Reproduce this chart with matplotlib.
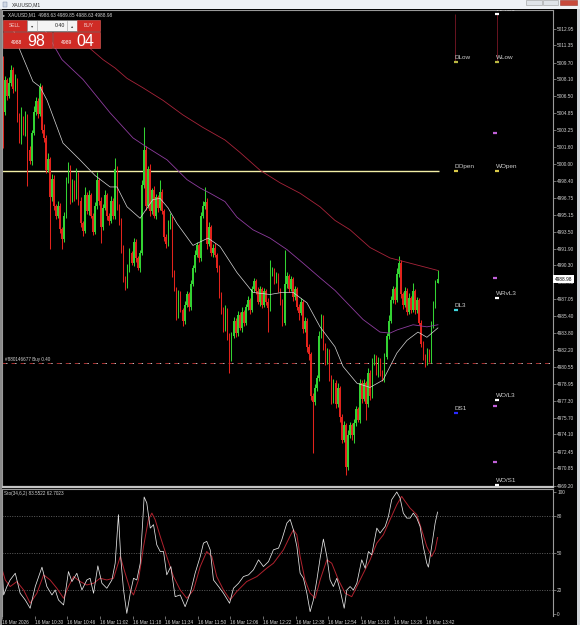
import numpy as np
import matplotlib.pyplot as plt
from matplotlib.patches import Rectangle

plt.rcParams['font.family'] = ['Liberation Sans', 'DejaVu Sans']

# M1 candles, 16 Mar 10:14 -> 13:47 (open of a bar = close of the bar before)
first_open = 5010.0
closes = [
    5005.0, 5008.0, 5006.5, 5007.8, 5009.0, 5007.2, 5008.0, 5004.5, 5002.3, 5004.3, 5003.0, 5004.6, 5001.3, 5000.3, 5003.0, 5005.0,
    5006.0, 5004.8, 5007.4, 5003.3, 5002.5, 4999.4, 5000.5, 4996.8, 4998.6, 4996.0, 4995.0, 4996.0, 4993.8, 4992.8, 4995.0, 4998.5,
    4999.7, 4996.6, 4998.2, 4996.8, 4999.0, 4996.5, 4994.3, 4993.6, 4997.0, 4995.5, 4997.0, 4995.0, 4993.5, 4996.0, 4998.5, 4996.5,
    4994.0, 4995.8, 4997.0, 4995.0, 4994.5, 4996.5, 4995.0, 4999.5, 4996.0, 4994.5, 4992.0, 4989.0, 4988.3, 4990.0, 4991.5, 4990.5,
    4992.5, 4991.0, 4990.0, 4991.5, 4998.0, 5001.3, 4996.0, 4999.5, 4995.5, 4997.5, 4995.0, 4996.8, 4995.8, 4997.3, 4995.5, 4993.0,
    4992.3, 4994.2, 4994.8, 4989.5, 4988.0, 4985.5, 4987.5, 4986.0, 4985.0, 4986.5, 4987.5, 4986.3, 4988.5, 4990.0, 4991.3, 4992.2,
    4991.0, 4995.0, 4996.0, 4996.4, 4992.3, 4994.0, 4991.5, 4992.0, 4991.3, 4990.0, 4987.5, 4986.0, 4984.2, 4986.0, 4983.5, 4981.4,
    4983.5, 4985.0, 4983.8, 4985.5, 4984.3, 4985.8, 4984.8, 4986.3, 4987.0, 4986.0, 4988.0, 4988.8, 4987.8, 4986.8, 4988.0, 4986.5,
    4987.8, 4986.8, 4986.2, 4989.5, 4989.8, 4988.9, 4989.3, 4987.9, 4986.8, 4984.8, 4988.5, 4989.3, 4988.0, 4989.0, 4987.3, 4988.0,
    4986.3, 4985.7, 4986.8, 4984.2, 4985.0, 4982.5, 4981.8, 4977.8, 4977.2, 4978.5, 4979.5, 4983.5, 4985.3, 4982.6, 4981.0, 4982.0,
    4979.6, 4977.3, 4979.0, 4977.0, 4978.5, 4975.8, 4973.6, 4975.0, 4971.0, 4974.0, 4975.0, 4974.0, 4975.2, 4976.5, 4975.5, 4979.0,
    4977.5, 4979.0, 4977.0, 4980.0, 4977.8, 4981.0, 4981.5, 4980.0, 4981.2, 4980.0, 4979.4, 4981.5, 4983.5, 4985.0, 4987.0, 4988.0,
    4987.0, 4989.5, 4990.5, 4987.5, 4986.5, 4987.8, 4985.8, 4987.2, 4986.0, 4987.8, 4986.0, 4987.0, 4984.8, 4982.8, 4981.5, 4981.0,
    4982.0, 4981.2, 4984.5, 4986.5, 4988.63, 4988.98,
]
wick_up = [
    0.3, 0.4, 0.2, 0.5, 0.5, 0.3, 0.6, 0.2, 0.4, 1.2, 0.3, 0.5, 0.2, 0.4, 0.3, 0.6,
    0.4, 0.3, 0.4, 0.2, 0.5, 0.3, 0.6, 0.2, 0.4, 0.3, 0.2, 0.5, 0.3, 0.2, 0.4, 0.3,
    0.5, 0.2, 0.4, 0.3, 0.6, 0.2, 0.3, 0.2, 0.8, 0.3, 0.5, 0.2, 0.3, 0.4, 0.7, 0.2,
    0.3, 0.4, 0.5, 0.2, 0.3, 0.4, 0.2, 1.1, 0.3, 0.2, 0.3, 0.2, 0.3, 0.4, 0.5, 0.2,
    0.4, 0.3, 0.2, 0.3, 0.5, 2.2, 0.4, 0.3, 0.5, 0.2, 0.4, 0.3, 0.2, 1.2, 0.3, 0.2,
    0.3, 0.4, 0.5, 0.2, 0.3, 0.2, 0.4, 0.3, 0.2, 0.4, 0.3, 0.2, 0.4, 0.3, 0.5, 0.3,
    0.2, 0.4, 0.5, 1.4, 0.3, 0.4, 0.2, 0.3, 0.4, 0.2, 0.3, 0.2, 0.3, 0.5, 0.2, 0.3,
    0.4, 0.3, 0.2, 0.4, 0.3, 0.5, 0.2, 0.3, 0.4, 0.2, 0.3, 0.3, 0.2, 0.4, 0.3, 0.2,
    0.3, 0.2, 0.4, 1.3, 0.3, 0.2, 0.4, 0.3, 0.2, 0.3, 3.3, 0.4, 0.2, 0.3, 0.2, 0.3,
    0.2, 0.3, 0.4, 0.2, 0.3, 0.2, 0.3, 0.2, 0.3, 0.4, 0.3, 0.5, 0.3, 0.2, 0.3, 0.4,
    0.3, 0.2, 0.4, 0.3, 0.5, 0.2, 0.3, 0.4, 0.2, 0.5, 0.3, 0.2, 0.4, 0.3, 0.2, 0.4,
    0.3, 0.4, 0.2, 0.5, 0.3, 0.4, 0.3, 0.2, 0.3, 0.2, 0.3, 0.4, 0.3, 0.5, 0.4, 0.3,
    0.2, 0.5, 0.7, 0.3, 0.2, 0.4, 0.3, 0.4, 0.2, 0.8, 0.2, 0.3, 0.2, 0.3, 0.2, 0.3,
    0.4, 0.3, 0.5, 0.4, 0.3, 0.87,
]
wick_dn = [
    3.5, 0.3, 0.4, 0.2, 0.3, 0.4, 0.2, 0.5, 0.3, 0.4, 0.2, 0.3, 3.4, 0.3, 0.4, 0.2,
    0.3, 0.4, 0.2, 0.3, 0.4, 0.3, 0.2, 4.9, 0.3, 0.4, 0.3, 0.2, 0.4, 0.9, 0.3, 0.2,
    0.3, 0.4, 0.2, 0.3, 0.2, 0.4, 0.3, 0.5, 0.2, 0.3, 0.4, 0.2, 0.3, 0.2, 0.3, 0.4,
    1.6, 0.3, 0.2, 0.4, 0.3, 0.2, 0.3, 0.3, 0.4, 0.3, 0.5, 0.3, 0.4, 0.2, 0.3, 0.2,
    0.3, 0.4, 0.2, 0.3, 0.2, 0.3, 0.4, 0.2, 0.5, 0.3, 0.2, 0.3, 0.4, 0.2, 0.3, 0.4,
    0.3, 0.2, 0.4, 0.3, 0.2, 0.4, 0.3, 0.2, 0.5, 0.3, 0.2, 0.4, 0.3, 0.2, 0.3, 0.2,
    0.4, 0.3, 0.2, 0.3, 0.4, 0.2, 0.3, 0.4, 0.2, 0.3, 0.3, 0.4, 0.3, 0.2, 0.4, 1.4,
    0.3, 0.2, 0.4, 0.3, 0.2, 0.4, 0.3, 0.2, 0.3, 0.4, 0.2, 0.3, 0.3, 0.2, 0.4, 0.3,
    0.2, 0.3, 2.3, 0.3, 0.2, 0.4, 0.3, 0.2, 0.3, 0.3, 0.2, 0.4, 0.3, 0.2, 0.4, 0.3,
    0.3, 0.6, 0.2, 0.4, 0.3, 0.5, 0.6, 0.4, 4.9, 0.3, 0.2, 0.3, 0.2, 0.4, 0.3, 0.2,
    0.4, 0.3, 0.2, 0.4, 0.3, 0.5, 0.3, 0.2, 0.8, 0.3, 0.2, 0.4, 0.7, 0.3, 0.2, 0.3,
    0.4, 0.2, 1.5, 0.3, 0.4, 0.2, 0.3, 0.2, 0.4, 0.3, 0.2, 0.3, 0.2, 0.3, 0.2, 0.3,
    0.4, 0.2, 0.3, 0.3, 0.4, 0.2, 0.3, 0.2, 0.3, 0.2, 0.4, 0.3, 0.2, 0.3, 0.3, 0.4,
    0.3, 0.2, 0.3, 0.2, 0.3, 0.0,
]

# moving averages (bar index, price)
ma_fast_x = [4.4, 8.3, 14.7, 18.1, 21.6, 29.4, 37.7, 45.1, 52.5, 55.9, 60.8, 67.2, 73.5, 77.0, 80.9, 85.3, 93.1, 100.5,
             106.4, 114.7, 122.5, 130.9, 136.8, 142.2, 149.0, 155.4, 162.7, 166.7, 173.5, 179.9, 186.3, 193.1, 198.0,
             203.4, 207.8, 213.2]
ma_fast = [5013.3, 5010.9, 5007.9, 5007.4, 5006.1, 5002.0, 5000.4, 4998.9, 4997.8, 4997.8, 4995.9, 4994.8, 4996.6,
           4996.7, 4995.8, 4994.3, 4992.2, 4992.9, 4992.1, 4989.6, 4987.7, 4987.5, 4987.7, 4987.7, 4986.7, 4984.4,
           4982.5, 4980.6, 4979.0, 4978.6, 4979.3, 4981.9, 4983.1, 4983.9, 4983.4, 4984.3]
ma_mid_x = [20.6, 28.9, 39.2, 52.5, 63.7, 70.6, 80.4, 90.2, 96.6, 101.5, 108.8, 114.7, 122.5, 130.9, 139.2, 147.1,
            155.4, 162.7, 168.6, 176.5, 184.8, 189.7, 193.1, 201.0, 207.8, 213.2]
ma_mid = [5012.8, 5010.0, 5008.1, 5004.9, 5002.5, 5001.6, 5000.4, 4998.5, 4997.7, 4997.2, 4996.4, 4994.9, 4993.7,
          4992.9, 4991.8, 4990.5, 4989.1, 4987.9, 4986.7, 4985.1, 4983.9, 4983.8, 4984.1, 4984.6, 4984.4, 4984.6]
ma_slow_x = [37.7, 49.0, 54.9, 60.8, 68.6, 78.4, 88.2, 98.0, 108.8, 116.2, 126.0, 135.8, 145.6, 155.4, 162.7, 170.1,
             179.9, 189.7, 199.5, 209.3, 213.2]
ma_slow = [5011.9, 5010.0, 5009.2, 5008.2, 5007.3, 5006.1, 5004.7, 5003.5, 5002.3, 5001.1, 4999.4, 4998.2, 4997.2,
           4995.9, 4994.6, 4993.7, 4992.0, 4991.0, 4990.5, 4990.0, 4989.8]

day_open = 4999.3
order_price = 4980.91
last_price = 4988.98

# pivot levels drawn right of the price
level_names = ['WP/S1', 'DLow', 'WLow', 'DOpen', 'WOpen', 'WRvL3', 'DL3', 'WO/L3', 'DS1', 'WO/S1']
level_bar = [242.2, 222.1, 242.2, 222.1, 242.2, 242.2, 222.1, 242.2, 222.1, 242.2]
level_price = [5014.37, 5009.77, 5009.77, 4999.33, 4999.33, 4987.16, 4986.01, 4977.39, 4976.15, 4969.25]
level_color = ['white', '#b8b842', '#b8b842', '#d8c848', '#d8c848', 'white', '#3fd8e0', 'white', '#2a2aff', 'white']
purple_bar = [241.2, 241.2, 241.2, 241.2]
purple_price = [5002.97, 4989.08, 4976.82, 4971.46]

price_ticks = [5012.95, 5011.35, 5009.70, 5008.10, 5006.50, 5004.85, 5003.25, 5001.60, 5000.00, 4998.40, 4996.75,
               4995.15, 4993.50, 4991.90, 4990.30, 4988.65, 4987.05, 4985.40, 4983.80, 4982.20, 4980.55, 4978.95,
               4977.30, 4975.70, 4974.10, 4972.45, 4970.85, 4969.20]

# stochastic (34,6,2)
sto_x = [-0.5, 0.2, 1.8, 3.4, 5.9, 8.3, 10.8, 13.2, 15.7, 19.0,
         21.4, 23.9, 25.5, 27.1, 29.6, 32.0, 33.7, 36.1, 38.6, 41.0,
         42.6, 44.3, 46.4, 48.4, 50.8, 53.3, 54.9, 56.5, 57.7, 59.0,
         60.6, 62.3, 63.9, 65.5, 67.2, 69.1, 70.4, 72.1, 73.7, 75.3,
         77.0, 78.6, 80.2, 82.2, 84.3, 86.8, 89.2, 91.7, 94.1, 96.6,
         98.2, 99.8, 101.5, 103.1, 105.6, 108.0, 111.0, 112.9, 115.4, 117.8,
         120.3, 122.7, 125.2, 127.6, 130.1, 132.5, 135.0, 136.6, 139.1, 140.7,
         142.3, 144.0, 145.6, 147.2, 148.9, 150.5, 152.1, 153.8, 155.4, 157.0,
         158.7, 160.3, 161.9, 163.6, 165.2, 167.2, 168.5, 170.1, 171.7, 173.4,
         175.8, 177.5, 179.1, 180.7, 183.2, 184.8, 187.3, 188.9, 190.5, 193.0,
         194.6, 196.2, 197.9, 199.5, 201.1, 202.8, 204.4, 206.0, 207.7, 208.5,
         210.1, 211.8, 213.0]
sto_main = [36.2, 15.6, 22.5, 27.9, 33.4, 17.0, 11.5, 4.7, 22.5, 38.4,
            22.5, 15.6, 19.7, 11.5, 7.4, 34.8, 26.6, 33.4, 19.7, 27.9,
            29.3, 17.0, 39.5, 25.2, 21.1, 27.9, 41.6, 81.4, 44.4, 19.7,
            0.5, 17.0, 29.3, 27.9, 41.6, 95.9, 91.0, 70.4, 73.2, 56.7,
            51.2, 51.2, 32.1, 38.9, 14.2, 15.6, 6.0, 17.0, 33.4, 47.1,
            58.1, 59.5, 52.6, 27.9, 22.5, 17.0, 8.8, 21.1, 25.2, 30.7,
            32.1, 36.2, 44.4, 38.9, 43.0, 52.6, 54.0, 60.8, 74.5, 77.5,
            69.0, 55.3, 33.4, 29.3, 17.0, 1.9, 11.5, 27.9, 45.8, 61.4,
            47.1, 27.9, 22.5, 29.3, 19.7, 4.7, 19.7, 22.5, 19.7, 25.2,
            44.4, 37.5, 51.2, 48.5, 70.4, 66.3, 71.8, 80.0, 93.7, 100.0,
            95.1, 82.7, 78.6, 78.6, 82.7, 78.6, 71.8, 55.3, 41.6, 38.4,
            55.3, 74.5, 83.55]
sig_x = [-0.5, 1.0, 3.4, 6.7, 10.0, 13.2, 16.5, 19.8, 23.0, 26.3,
         29.6, 32.0, 34.5, 37.7, 41.0, 44.3, 47.5, 50.8, 54.1, 57.4,
         59.8, 62.3, 63.9, 66.3, 68.8, 71.2, 72.9, 74.5, 77.0, 80.2,
         83.5, 86.8, 90.0, 93.3, 96.6, 99.8, 102.3, 104.7, 108.0, 111.3,
         114.5, 119.4, 124.4, 129.2, 132.5, 137.4, 140.7, 142.3, 144.0, 145.6,
         148.0, 150.5, 153.0, 155.4, 158.7, 161.1, 164.4, 167.7, 170.9, 173.4,
         176.6, 179.9, 183.2, 186.4, 189.7, 193.0, 195.4, 197.1, 199.5, 202.8,
         205.2, 207.7, 210.1, 211.8, 213.0]
sig_d = [36.2, 27.9, 22.5, 26.6, 19.7, 8.8, 17.0, 32.1, 27.9, 21.1,
         12.9, 22.5, 30.7, 26.6, 23.8, 25.2, 29.3, 27.9, 29.3, 47.1,
         33.4, 19.7, 15.6, 27.9, 55.3, 77.3, 82.7, 77.3, 63.6, 47.1,
         30.7, 19.7, 12.9, 19.7, 38.9, 51.2, 47.1, 30.7, 19.7, 11.5,
         18.4, 26.6, 30.7, 37.5, 41.6, 52.6, 64.0, 69.0, 64.9, 47.1,
         27.9, 17.0, 12.9, 27.9, 44.4, 41.6, 27.9, 17.0, 14.2, 22.5,
         33.4, 44.4, 58.1, 64.9, 77.3, 89.6, 96.4, 92.3, 86.8, 81.4,
         69.0, 55.3, 47.1, 52.6, 62.70]
sto_levels = [100, 80, 50, 20, 0]

time_ticks = [16 * k - 0.6 for k in range(14)]
time_labels = ['16 Mar 2026', '16 Mar 10:30', '16 Mar 10:46', '16 Mar 11:02', '16 Mar 11:18', '16 Mar 11:34',
               '16 Mar 11:50', '16 Mar 12:06', '16 Mar 12:22', '16 Mar 12:38', '16 Mar 12:54', '16 Mar 13:10',
               '16 Mar 13:26', '16 Mar 13:42']

TXT = '#d4d4d4'
FRAME = '#9a9a9a'

fig = plt.figure(figsize=(5.8, 6.25), dpi=100, facecolor='black')
ax = fig.add_axes([2 / 580, 138 / 625, 551 / 580, 477 / 625])
ax2 = fig.add_axes([2 / 580, 9 / 625, 551 / 580, 127 / 625])

for a in (ax, ax2):
    a.set_facecolor('black')
    a.set_xlim(-0.49, 269.6)
    for s in a.spines.values():
        s.set_color(FRAME)
        s.set_linewidth(0.8)
    a.spines['bottom'].set_visible(False)
    a.yaxis.tick_right()
    a.tick_params(axis='y', length=2, width=0.5, colors=FRAME, labelcolor=TXT, labelsize=3.4, pad=1)
ax.spines['bottom'].set_visible(True)
ax.spines['bottom'].set_color('#c4c4c4')
ax.spines['bottom'].set_linewidth(1.6)
ax.set_xticks([])

# ---- price window ----
c = np.array(closes)
o = np.r_[first_open, c[:-1]]
hi = np.maximum(o, c) + np.array(wick_up)
lo = np.minimum(o, c) - np.array(wick_dn)
xb = np.arange(len(c))
col = np.where(c >= o, '#33d233', '#e2231c')
ax.vlines(xb, lo, hi, colors=col, lw=0.75, zorder=2)
ax.bar(xb, np.maximum(np.abs(c - o), 0.08), bottom=np.minimum(o, c), width=0.72, color=col, lw=0, zorder=2)

ax.plot(ma_slow_x, ma_slow, color='#a8243a', lw=0.6, zorder=3)
ax.plot(ma_mid_x, ma_mid, color='#8e3c9e', lw=0.6, zorder=3)
ax.plot(ma_fast_x, ma_fast, color='#d8d8d8', lw=0.5, zorder=3)

ax.hlines(day_open, -0.49, 213.5, color='#f2eea6', lw=1.0, zorder=1)
ax.axhline(order_price, color='#a83030', lw=0.7, ls=(0, (4, 5.3)), zorder=1)
ax.axhline(order_price, color='#c8c8c8', lw=0.7, ls=(5.5, (1.3, 8)), zorder=1)
ax.text(1, order_price + 0.12, '#880146677 Buy 0.40', color=TXT, fontsize=3.3, va='bottom', ha='left')

ax.vlines([221.8, 242.2], 5009.9, 5014.4, color='#6a1420', lw=0.7, zorder=1)
for nm, b, p, cl in zip(level_names, level_bar, level_price, level_color):
    ax.plot(b, p, marker='_', ms=3, mew=1.6, color=cl, ls='none', zorder=4)
    ax.text(b - 0.6, p + 0.28, nm, color='#cfcfcf', fontsize=4.6, ha='left', va='baseline', clip_on=True)
ax.plot(purple_bar, purple_price, marker='_', ms=3, mew=1.6, color='#c060d8', ls='none', zorder=4)

ax.set_yticks(price_ticks, labels=[f'{p:.2f}' for p in price_ticks])
ax.set_ylim(4969.06, 5014.75)
ax.text(1.003, last_price, '4988.98', transform=ax.get_yaxis_transform(), color='black', fontsize=3.4,
        ha='left', va='center', zorder=6,
        bbox=dict(facecolor='white', edgecolor='none', boxstyle='square,pad=0.35'))

# ---- stochastic window ----
for lv in (80, 50, 20):
    ax2.axhline(lv, color='#7c7c7c', lw=0.5, ls=(0, (1.5, 2)))
ax2.plot(sig_x, sig_d, color='#b0222e', lw=0.7)
ax2.plot(sto_x, sto_main, color='#e6e6e6', lw=0.55)
ax2.set_ylim(-1.64, 102.46)
ax2.set_yticks(sto_levels, labels=[str(v) for v in sto_levels])
ax2.set_xticks(time_ticks, labels=time_labels)
ax2.tick_params(axis='x', length=2, width=0.5, colors=FRAME, labelcolor=TXT, labelsize=3.4, pad=0.6)
for t in ax2.get_xticklabels():
    t.set_ha('left')
ax2.text(0.003, 0.985, 'Sto(34,6,2) 83.5522 62.7023', transform=ax2.transAxes, color=TXT, fontsize=3.3,
         ha='left', va='top')

# ---- window chrome and one-click trading panel (pixel coords) ----
ov = fig.add_axes([0, 0, 1, 1], zorder=5)
ov.set_xlim(0, 580)
ov.set_ylim(625, 0)
ov.axis('off')


def box(x0, y0, x1, y1, fc, ec='none', lw=0.0):
    ov.add_patch(Rectangle((x0, y0), x1 - x0, y1 - y0, facecolor=fc, edgecolor=ec, linewidth=lw))


box(0, 0, 580, 9, '#eef1f5')
box(526, 0, 542, 5, '#dfe3e8', '#9a9a9a', 0.4)
box(543, 0, 558, 5, '#dfe3e8', '#9a9a9a', 0.4)
box(560, 0, 577, 5, '#c84a3c', '#9a3a30', 0.4)
box(3, 2, 7, 7, '#d0d8e4', '#7080a0', 0.3)
ov.text(12, 4.6, 'XAUUSD,M1', fontsize=3.6, color='#303030', va='center', ha='left')
box(577, 9, 580, 625, '#cfd3d8')
box(0, 9, 1.5, 625, '#8a8a8a')

ov.text(3, 15, '\u25B8', fontsize=3.2, color=TXT, va='center', ha='left')
ov.text(8, 15, 'XAUUSD,M1  4988.63 4989.85 4988.63 4988.98', fontsize=3.4, color=TXT, va='center', ha='left')

RED = '#cf2b25'
box(3, 20, 27, 31, RED, '#e2625c', 0.4)
box(27, 20, 77, 31, '#f4f4f4', '#8a8a8a', 0.4)
box(77, 20, 100, 31, RED, '#e2625c', 0.4)
ov.plot([37, 37], [20.5, 30.5], color='#9a9a9a', lw=0.4)
ov.plot([67, 67], [20.5, 30.5], color='#9a9a9a', lw=0.4)
ov.text(15, 25.6, 'SELL', fontsize=3.5, color='#f2d4d2', ha='center', va='center')
ov.text(88.5, 25.6, 'BUY', fontsize=3.5, color='#f2d4d2', ha='center', va='center')
ov.text(32, 25.6, '\u25BE', fontsize=3.2, color='#404040', ha='center', va='center')
ov.text(72, 25.6, '\u25B4', fontsize=3.2, color='#404040', ha='center', va='center')
ov.text(65, 25.6, '0.40', fontsize=3.8, color='#202020', ha='right', va='center')
box(3, 32, 52, 48, RED, '#e2625c', 0.4)
box(53, 32, 100, 48, RED, '#e2625c', 0.4)
ov.text(11, 44.5, '4988', fontsize=3.6, color='white', ha='left', va='baseline')
ov.text(27, 45.5, '98', fontsize=11.5, color='white', ha='left', va='baseline')
ov.text(61, 44.5, '4989', fontsize=3.6, color='white', ha='left', va='baseline')
ov.text(76, 45.5, '04', fontsize=11.5, color='white', ha='left', va='baseline')

fig.savefig('out.png', dpi=100, facecolor='black')
